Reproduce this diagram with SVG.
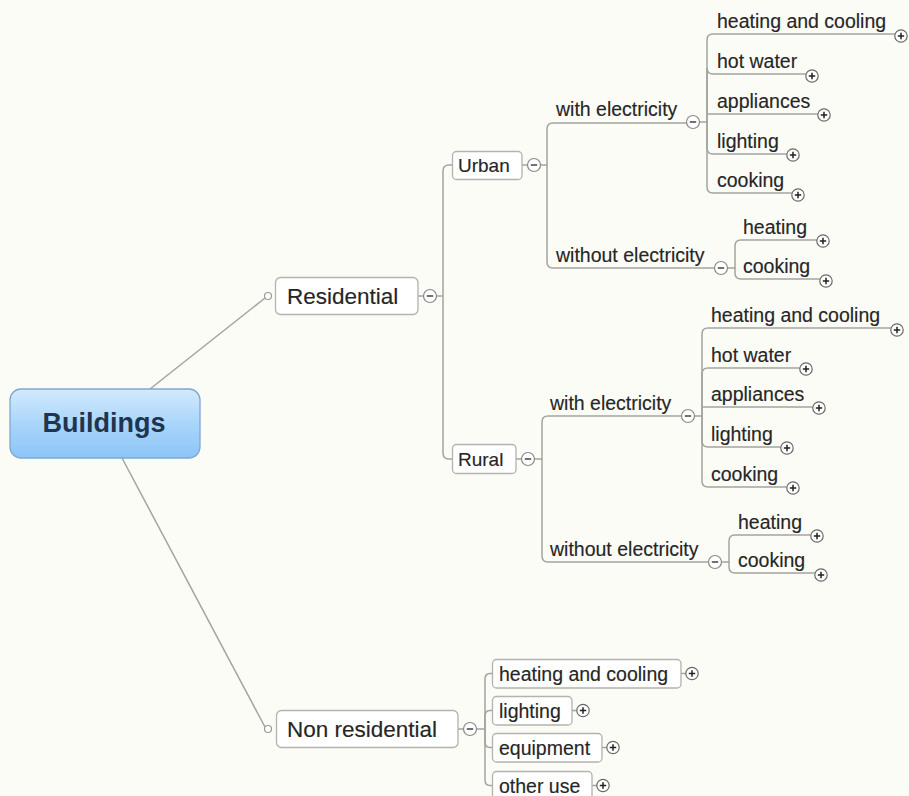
<svg xmlns="http://www.w3.org/2000/svg" width="909" height="796" viewBox="0 0 909 796">
  <defs>
    <linearGradient id="rootFill" x1="0" y1="0" x2="0" y2="1">
      <stop offset="0" stop-color="#d3eafd"/>
      <stop offset="0.5" stop-color="#a9d5fb"/>
      <stop offset="1" stop-color="#8cc5f7"/>
    </linearGradient>
    <style>
      .bg { fill: #fcfcf7; }
      .link { fill: none; stroke: #a3a3a0; stroke-width: 1.5; }
      .box { fill: #ffffff; stroke: #b2b2ae; stroke-width: 1.3; }
      .t { font-family: "Liberation Sans", Arial, sans-serif; fill: #262626; stroke: #262626; stroke-width: 0.15; }
      .big { font-size: 22.5px; }
      .mid { font-size: 19px; }
      .sub { font-size: 19.5px; }
      .root { font-family: "Liberation Sans", Arial, sans-serif; font-weight: bold; font-size: 27px; fill: #1f344e; }
      .fold { fill: #ffffff; stroke: #8a8a88; stroke-width: 1.2; }
      .foldMark { stroke: #444; stroke-width: 1.5; fill: none; }
      .plus { fill: #ffffff; stroke: #6a6a68; stroke-width: 1.2; }
      .plusMark { stroke: #222; stroke-width: 1.5; fill: none; }
      .dot { fill: #ffffff; stroke: #999; stroke-width: 1.2; }
    </style>
    <!-- collapse (minus) and expand (plus) toggles -->
    <g id="minus">
      <circle class="fold" r="6.5"/>
      <path class="foldMark" d="M-3.2,0 H3.2"/>
    </g>
    <g id="plusSign">
      <circle class="plus" r="6.2"/>
      <path class="plusMark" d="M-3.2,0 H3.2 M0,-3.2 V3.2"/>
    </g>
  </defs>

  <rect class="bg" x="0" y="0" width="909" height="796"/>

  <!-- connectors -->
  <g id="connectors">
    <!-- root to main branches -->
    <path class="link" d="M150,389 L265,298"/>
    <path class="link" d="M122,458 L265,727"/>

    <!-- Residential to Urban / Rural -->
    <path class="link" d="M418,296 H423.5 M436.5,296 H443 M443,296 V171 Q443,165 449,165 H452"/>
    <path class="link" d="M443,296 V453 Q443,459 449,459 H452"/>

    <!-- Urban to its groups -->
    <path class="link" d="M522,165 H527.5 M540.5,165 H547 V129 Q547,123 553,123 H686.5"/>
    <path class="link" d="M547,165 V262 Q547,268 553,268 H714.5"/>

    <!-- Urban / with electricity leaves -->
    <path class="link" d="M699.5,122 H707 V40 Q707,34 713,34 H895"/>
    <path class="link" d="M707,122 V68 Q707,74 713,74 H806"/>
    <path class="link" d="M707,114 H818"/>
    <path class="link" d="M707,122 V148 Q707,154 713,154 H787"/>
    <path class="link" d="M707,122 V187 Q707,193 713,193 H792"/>

    <!-- Urban / without electricity leaves -->
    <path class="link" d="M727.5,268 H735 V246 Q735,240 741,240 H817"/>
    <path class="link" d="M735,268 V273 Q735,279 741,279 H820"/>

    <!-- Rural to its groups -->
    <path class="link" d="M516,459 H521.5 M534.5,459 H542 V422 Q542,416 548,416 H681.5"/>
    <path class="link" d="M542,459 V556 Q542,562 548,562 H708.5"/>

    <!-- Rural / with electricity leaves -->
    <path class="link" d="M694.5,416 H702 V334 Q702,328 708,328 H891"/>
    <path class="link" d="M702,416 V374 Q702,368 708,368 H800"/>
    <path class="link" d="M702,407 H813"/>
    <path class="link" d="M702,416 V441 Q702,447 708,447 H781"/>
    <path class="link" d="M702,416 V481 Q702,487 708,487 H787"/>

    <!-- Rural / without electricity leaves -->
    <path class="link" d="M721.5,562 H729 V541 Q729,535 735,535 H811"/>
    <path class="link" d="M729,562 V567 Q729,573 735,573 H815"/>

    <!-- Non residential leaves -->
    <path class="link" d="M458,729 H463.5 M476.5,729 H485 V679 Q485,673.5 490,673.5 H492"/>
    <path class="link" d="M485,729 V716 Q485,710.5 490,710.5 H492"/>
    <path class="link" d="M485,729 V742 Q485,747.5 490,747.5 H492"/>
    <path class="link" d="M485,729 V780 Q485,785.5 490,785.5 H492"/>
    <path class="link" d="M681,673.5 H686 M572,710.5 H577 M602,747.5 H607 M592,785.5 H597"/>
  </g>

  <!-- root -->
  <g id="buildings">
    <rect x="10" y="389" width="190" height="69" rx="11" fill="url(#rootFill)" stroke="#7fa8cf" stroke-width="1.3"/>
    <text class="root" x="104" y="432" text-anchor="middle">Buildings</text>
  </g>

  <!-- Residential branch -->
  <g id="residential">
    <circle class="dot" cx="268" cy="296" r="3.5"/>
    <rect class="box" x="275.5" y="277.5" width="142.5" height="37" rx="5"/>
    <text class="t big" x="287" y="304">Residential</text>
    <use href="#minus" x="430" y="296"/>
  </g>

  <g id="urban">
    <rect class="box" x="452.5" y="151.5" width="69.5" height="28" rx="4"/>
    <text class="t mid" x="458" y="172">Urban</text>
    <use href="#minus" x="534" y="165"/>
  </g>

  <g id="urban-with-electricity">
    <text class="t sub" x="556" y="116">with electricity</text>
    <use href="#minus" x="693" y="122"/>
  </g>
  <g id="urban-we-heating-cooling">
    <text class="t sub" x="717" y="28">heating and cooling</text>
    <use href="#plusSign" x="901" y="36"/>
  </g>
  <g id="urban-we-hot-water">
    <text class="t sub" x="717" y="68">hot water</text>
    <use href="#plusSign" x="812" y="76"/>
  </g>
  <g id="urban-we-appliances">
    <text class="t sub" x="717" y="108">appliances</text>
    <use href="#plusSign" x="824" y="115"/>
  </g>
  <g id="urban-we-lighting">
    <text class="t sub" x="717" y="148">lighting</text>
    <use href="#plusSign" x="793" y="155"/>
  </g>
  <g id="urban-we-cooking">
    <text class="t sub" x="717" y="187">cooking</text>
    <use href="#plusSign" x="798" y="195"/>
  </g>

  <g id="urban-without-electricity">
    <text class="t sub" x="556" y="262">without electricity</text>
    <use href="#minus" x="721" y="268"/>
  </g>
  <g id="urban-wo-heating">
    <text class="t sub" x="743" y="234">heating</text>
    <use href="#plusSign" x="823" y="241"/>
  </g>
  <g id="urban-wo-cooking">
    <text class="t sub" x="743" y="273">cooking</text>
    <use href="#plusSign" x="826" y="281"/>
  </g>

  <g id="rural">
    <rect class="box" x="452.5" y="444.5" width="63.5" height="29" rx="4"/>
    <text class="t mid" x="458" y="466">Rural</text>
    <use href="#minus" x="528" y="459"/>
  </g>

  <g id="rural-with-electricity">
    <text class="t sub" x="550" y="410">with electricity</text>
    <use href="#minus" x="688" y="416"/>
  </g>
  <g id="rural-we-heating-cooling">
    <text class="t sub" x="711" y="322">heating and cooling</text>
    <use href="#plusSign" x="897" y="330"/>
  </g>
  <g id="rural-we-hot-water">
    <text class="t sub" x="711" y="362">hot water</text>
    <use href="#plusSign" x="806" y="369"/>
  </g>
  <g id="rural-we-appliances">
    <text class="t sub" x="711" y="401">appliances</text>
    <use href="#plusSign" x="819" y="408"/>
  </g>
  <g id="rural-we-lighting">
    <text class="t sub" x="711" y="441">lighting</text>
    <use href="#plusSign" x="787" y="448"/>
  </g>
  <g id="rural-we-cooking">
    <text class="t sub" x="711" y="481">cooking</text>
    <use href="#plusSign" x="793" y="488"/>
  </g>

  <g id="rural-without-electricity">
    <text class="t sub" x="550" y="556">without electricity</text>
    <use href="#minus" x="715" y="562"/>
  </g>
  <g id="rural-wo-heating">
    <text class="t sub" x="738" y="529">heating</text>
    <use href="#plusSign" x="817" y="536"/>
  </g>
  <g id="rural-wo-cooking">
    <text class="t sub" x="738" y="567">cooking</text>
    <use href="#plusSign" x="821" y="575"/>
  </g>

  <!-- Non residential branch -->
  <g id="non-residential">
    <circle class="dot" cx="268" cy="729" r="3.5"/>
    <rect class="box" x="276.5" y="710.5" width="181.5" height="37" rx="5"/>
    <text class="t big" x="287" y="737">Non residential</text>
    <use href="#minus" x="470" y="729"/>
  </g>
  <g id="nr-heating-cooling">
    <rect class="box" x="492.5" y="659.5" width="188.5" height="28.5" rx="4"/>
    <text class="t sub" x="499" y="681">heating and cooling</text>
    <use href="#plusSign" x="692" y="673.5"/>
  </g>
  <g id="nr-lighting">
    <rect class="box" x="492.5" y="696.5" width="79.5" height="28.5" rx="4"/>
    <text class="t sub" x="499" y="718">lighting</text>
    <use href="#plusSign" x="583" y="710.5"/>
  </g>
  <g id="nr-equipment">
    <rect class="box" x="492.5" y="733.5" width="109.5" height="28.5" rx="4"/>
    <text class="t sub" x="499" y="755">equipment</text>
    <use href="#plusSign" x="613" y="747.5"/>
  </g>
  <g id="nr-other-use">
    <rect class="box" x="492.5" y="771.5" width="99.5" height="28.5" rx="4"/>
    <text class="t sub" x="499" y="793">other use</text>
    <use href="#plusSign" x="603" y="785.5"/>
  </g>
</svg>
